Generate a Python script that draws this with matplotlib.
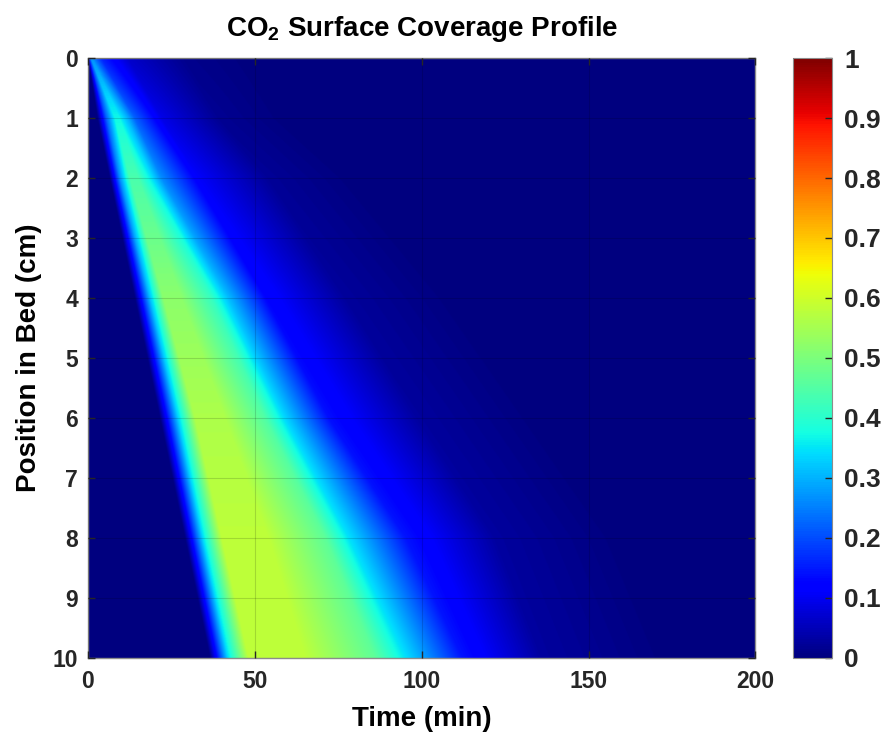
import numpy as np
import matplotlib
matplotlib.use("Agg")
import matplotlib.pyplot as plt

plt.rcParams["font.family"] = ["Liberation Sans", "DejaVu Sans"]
plt.rcParams["font.weight"] = "bold"
plt.rcParams["mathtext.fontset"] = "custom"
plt.rcParams["mathtext.rm"] = "Liberation Sans:bold"
plt.rcParams["mathtext.bf"] = "Liberation Sans:bold"
plt.rcParams["mathtext.default"] = "bf"

# Bed positions (cm) where the coverage profile is described
bed_pos = np.array([0, 1, 2, 4, 6, 8, 10])
# Maximum CO2 surface coverage reached at each bed position
peak_cov = np.array([0.27, 0.37, 0.44, 0.52, 0.56, 0.58, 0.58])
# Coverage as a fraction of the peak at each profile knot
shape_levels = np.array([0.0, 0.6, 1.0, 1.0, 0.8, 0.6, 0.25, 0.05, 0.0])
# Times (min) of each profile knot, one row per bed position
knot_times = np.array([
    [0.0, 0.3, 0.8, 1.3, 2.5, 4.0, 12.0, 29.0, 50.0],
    [2.8, 5.5, 8.0, 9.5, 12.0, 14.0, 22.0, 39.0, 60.0],
    [6.5, 9.5, 12.5, 15.0, 19.0, 22.0, 33.0, 54.0, 80.0],
    [14.0, 18.5, 22.5, 28.0, 37.0, 42.0, 53.0, 77.0, 110.0],
    [21.5, 27.0, 32.0, 41.0, 53.0, 59.0, 72.0, 99.0, 135.0],
    [29.0, 34.5, 40.0, 54.0, 71.0, 78.0, 95.0, 122.0, 160.0],
    [36.5, 42.0, 48.0, 65.0, 86.0, 95.0, 112.0, 136.0, 175.0],
])

x_ticks = [0, 50, 100, 150, 200]
y_ticks = list(range(0, 11))
cbar_ticks = [round(0.1 * i, 1) for i in range(11)]

# Coverage field on a fine time/position grid
z_grid = np.linspace(0, 10, 601)
t_grid = np.linspace(0, 200, 2001)
field = np.zeros((z_grid.size, t_grid.size))
for i, z in enumerate(z_grid):
    times = np.array([np.interp(z, bed_pos, knot_times[:, k])
                      for k in range(knot_times.shape[1])])
    pk = np.interp(z, bed_pos, peak_cov)
    field[i] = pk * np.interp(t_grid, times, shape_levels)

fig = plt.figure(figsize=(8.85, 7.37), dpi=100)
ax = fig.add_axes([0.0994, 0.1072, 0.7542, 0.8141])
cax = fig.add_axes([0.896, 0.1072, 0.044, 0.8141])

im = ax.imshow(field, cmap="jet", vmin=0, vmax=1, aspect="auto",
               extent=(0, 200, 10, 0), origin="upper",
               interpolation="bilinear")

ax.set_xlim(0, 200)
ax.set_ylim(10, 0)
ax.set_xticks(x_ticks)
ax.set_yticks(y_ticks)
ax.set_xticklabels([str(v) for v in x_ticks])
ax.set_yticklabels([str(v) for v in y_ticks])
ax.tick_params(direction="in", length=5, width=1.0, labelsize=16.5,
               colors="#262626", top=True, right=True)
ax.tick_params(axis="x", pad=9)
ax.tick_params(axis="y", pad=7)
for lbl in ax.get_xticklabels() + ax.get_yticklabels():
    lbl.set_fontweight("bold")
ax.grid(True, color="black", alpha=0.15, linewidth=0.8)
ax.set_axisbelow(False)
for sp in ax.spines.values():
    sp.set_color("#8c8c8c")
    sp.set_linewidth(1.0)

ax.set_xlabel("Time (min)", fontsize=20, fontweight="bold", labelpad=9)
ax.set_ylabel("Position in Bed (cm)", fontsize=20, fontweight="bold",
              labelpad=8)
ax.set_title("CO$_2$ Surface Coverage Profile", fontsize=20,
             fontweight="bold", pad=16)

cb = fig.colorbar(im, cax=cax, ticks=cbar_ticks)
cb.ax.set_yticklabels(["0" if v == 0 else ("1" if v == 1 else f"{v:.1f}")
                       for v in cbar_ticks])
cb.ax.tick_params(direction="in", length=5, width=1.0, labelsize=19,
                  colors="#262626", pad=9)
for lbl in cb.ax.get_yticklabels():
    lbl.set_fontweight("bold")
cb.outline.set_edgecolor("#8c8c8c")

fig.savefig("out.png", dpi=100)
